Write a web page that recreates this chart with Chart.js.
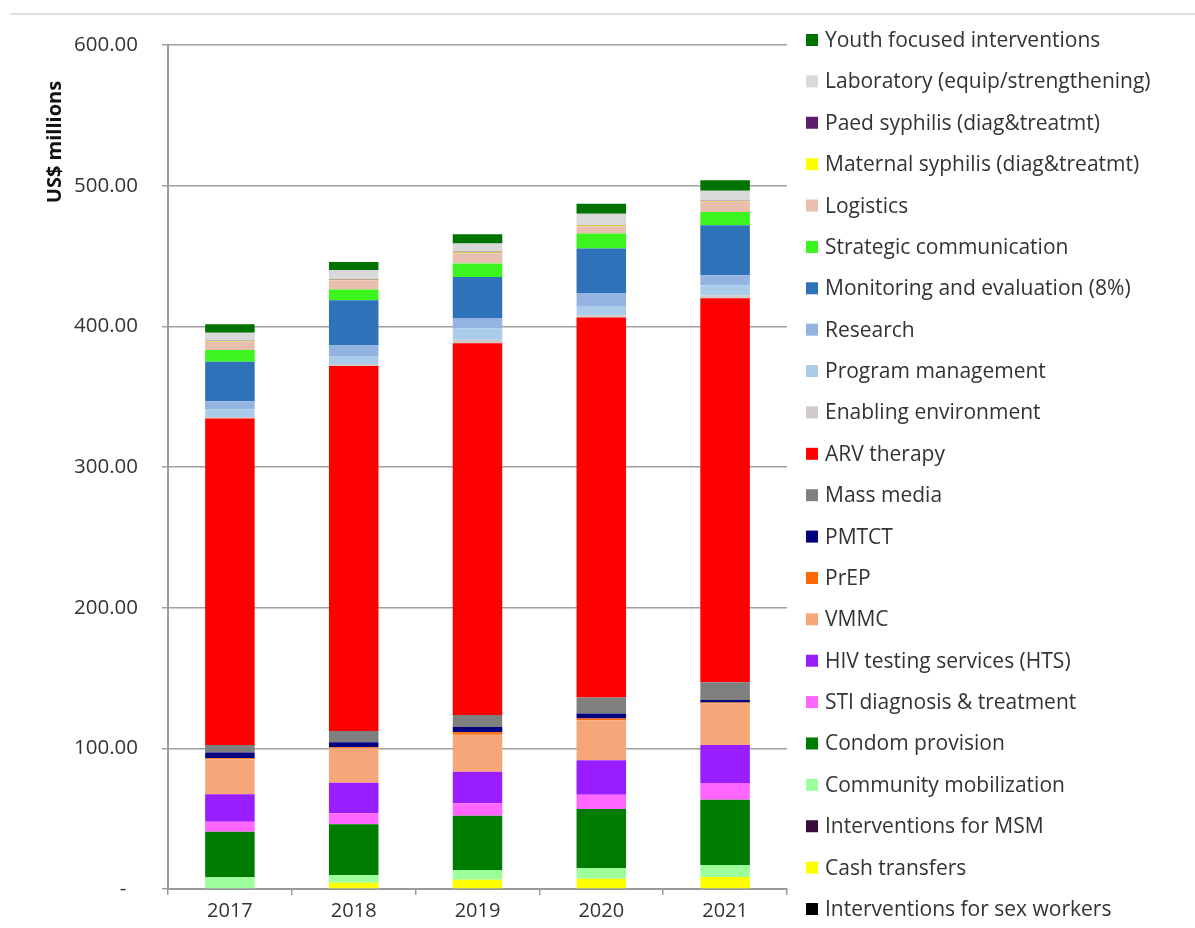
<!DOCTYPE html>
<html>
<head>
<meta charset="utf-8">
<script src="https://cdn.jsdelivr.net/npm/chart.js@4/dist/chart.umd.min.js"></script>
<style>
  html, body { margin: 0; padding: 0; background: #ffffff; }
  #wrap { position: relative; width: 1195px; height: 928px; }
  #topRule { position: absolute; left: 10px; right: 0; top: 13px; border-top: 2px solid #dedede; }
  canvas { position: absolute; left: 0; top: 0; }
</style>
</head>
<body>
<div id="wrap">
  <div id="topRule"></div>
  <canvas id="c" width="1195" height="928"></canvas>
</div>
<script>
// Years on the category axis
const years = ['2017', '2018', '2019', '2020', '2021'];

// Spending by programme area, US$ millions (stacked bottom → top)
const sexWorkers      = [0, 0, 0, 0, 0];
const cashTransfers   = [0, 4.5, 6.5, 7.3, 8.5];
const msm             = [0, 0, 0, 0, 0];
const communityMob    = [8.3, 5.5, 7.0, 7.5, 8.5];
const condoms         = [32.4, 36.0, 38.6, 42.0, 46.5];
const sti             = [7.1, 7.8, 8.8, 10.2, 11.8];
const hts             = [19.5, 21.7, 22.5, 24.5, 27.0];
const vmmc            = [24.9, 24.5, 26.2, 28.5, 29.6];
const prep            = [0.8, 0.8, 1.8, 1.2, 0.6];
const pmtct           = [4.0, 3.5, 3.8, 3.5, 1.8];
const massMedia       = [5.3, 8.0, 8.5, 11.5, 12.7];
const arv             = [232.2, 259.5, 264.3, 270.0, 273.0];
const enablingEnv     = [1.0, 1.5, 2.5, 1.7, 2.0];
const programMgmt     = [5.5, 5.0, 8.0, 6.0, 7.2];
const research        = [5.8, 8.0, 7.0, 9.5, 7.2];
const monitoringEval  = [28.0, 32.3, 29.6, 32.0, 35.5];
const strategicComm   = [8.3, 7.6, 9.5, 10.6, 9.4];
const logistics       = [6.0, 6.6, 7.4, 5.2, 7.2];
const maternalSyph    = [0.3, 0.3, 0.5, 0.4, 0.4];
const paedSyph        = [0.3, 0.3, 0.5, 0.4, 0.3];
const laboratory      = [5.7, 6.6, 5.9, 8.0, 7.1];
const youth           = [6.0, 5.8, 6.6, 7.2, 7.6];

// Value axis ticks
const yTicks = [0, 100, 200, 300, 400, 500, 600];

const series = [
  ['Interventions for sex workers', sexWorkers, '#000000'],
  ['Cash transfers', cashTransfers, '#ffff00'],
  ['Interventions for MSM', msm, '#3a0a3a'],
  ['Community mobilization', communityMob, '#9cff9c'],
  ['Condom provision', condoms, '#007d00'],
  ['STI diagnosis & treatment', sti, '#ff66ff'],
  ['HIV testing services (HTS)', hts, '#991eff'],
  ['VMMC', vmmc, '#f5a77a'],
  ['PrEP', prep, '#ff6a00'],
  ['PMTCT', pmtct, '#000080'],
  ['Mass media', massMedia, '#7f7f7f'],
  ['ARV therapy', arv, '#ff0000'],
  ['Enabling environment', enablingEnv, '#cfcaca'],
  ['Program management', programMgmt, '#a9cde9'],
  ['Research', research, '#95b3e0'],
  ['Monitoring and evaluation (8%)', monitoringEval, '#2e72ba'],
  ['Strategic communication', strategicComm, '#3cf51e'],
  ['Logistics', logistics, '#e8bfae'],
  ['Maternal syphilis (diag&treatmt)', maternalSyph, '#ffff00'],
  ['Paed syphilis (diag&treatmt)', paedSyph, '#5a1c6b'],
  ['Laboratory (equip/strengthening)', laboratory, '#d9d9d9'],
  ['Youth focused interventions', youth, '#007300']
];

const FONT = '"Open Sans", "Liberation Sans", sans-serif';

// Right-hand key: one row per series, top series first
const sideLegend = {
  id: 'sideLegend',
  afterDraw(chart) {
    const { ctx, chartArea } = chart;
    const items = chart.data.datasets.slice().reverse();
    const x0 = chartArea.right + 19;
    const yStart = chartArea.top - 5;
    const yEnd = chartArea.bottom + 20;
    const step = (yEnd - yStart) / (items.length - 1);
    ctx.save();
    ctx.font = '21px ' + FONT;
    ctx.textBaseline = 'middle';
    ctx.textAlign = 'left';
    items.forEach((ds, i) => {
      const cy = yStart + i * step;
      ctx.fillStyle = ds.backgroundColor;
      ctx.fillRect(x0, cy - 6, 12, 12);
      ctx.fillStyle = '#333333';
      ctx.fillText(ds.label, x0 + 19, cy + 1);
    });
    ctx.restore();
  }
};

// Vertical axis title near the top of the value axis
const axisTitle = {
  id: 'axisTitle',
  afterDraw(chart) {
    const { ctx, chartArea } = chart;
    ctx.save();
    ctx.translate(chartArea.left - 113, chartArea.top + 97);
    ctx.rotate(-Math.PI / 2);
    ctx.font = 'bold 20px ' + FONT;
    ctx.fillStyle = '#111111';
    ctx.textAlign = 'center';
    ctx.textBaseline = 'middle';
    ctx.fillText('US$ millions', 0, 0);
    ctx.restore();
  }
};

new Chart(document.getElementById('c'), {
  type: 'bar',
  data: {
    labels: years,
    datasets: series.map(([label, data, color]) => ({
      label,
      data,
      backgroundColor: color,
      borderWidth: 0,
      barPercentage: 0.4,
      categoryPercentage: 1.0
    }))
  },
  options: {
    responsive: false,
    animation: false,
    layout: { padding: { left: 0, right: 408, top: 45, bottom: 0 } },
    plugins: {
      legend: { display: false },
      tooltip: { enabled: false }
    },
    scales: {
      x: {
        stacked: true,
        offset: true,
        afterFit(scale) { scale.height = 39; },
        grid: {
          offset: true,
          drawOnChartArea: false,
          drawTicks: true,
          tickLength: 6,
          color: '#9a9a9a',
          lineWidth: 1.5
        },
        border: { color: '#9a9a9a', width: 2 },
        ticks: {
          color: '#333333',
          padding: 4,
          font: { family: FONT, size: 20 }
        }
      },
      y: {
        stacked: true,
        min: 0,
        max: 600,
        afterFit(scale) { scale.width = 168; },
        afterBuildTicks(scale) { scale.ticks = yTicks.map(v => ({ value: v })); },
        grid: {
          color: '#a0a0a0',
          lineWidth: 1.5,
          tickLength: 6
        },
        border: { color: '#9a9a9a', width: 2 },
        ticks: {
          color: '#333333',
          padding: 24,
          font: { family: FONT, size: 20.5 },
          callback: v => v === 0 ? '-\u2007' : v.toFixed(2)
        }
      }
    }
  },
  plugins: [sideLegend, axisTitle]
});
</script>
</body>
</html>
